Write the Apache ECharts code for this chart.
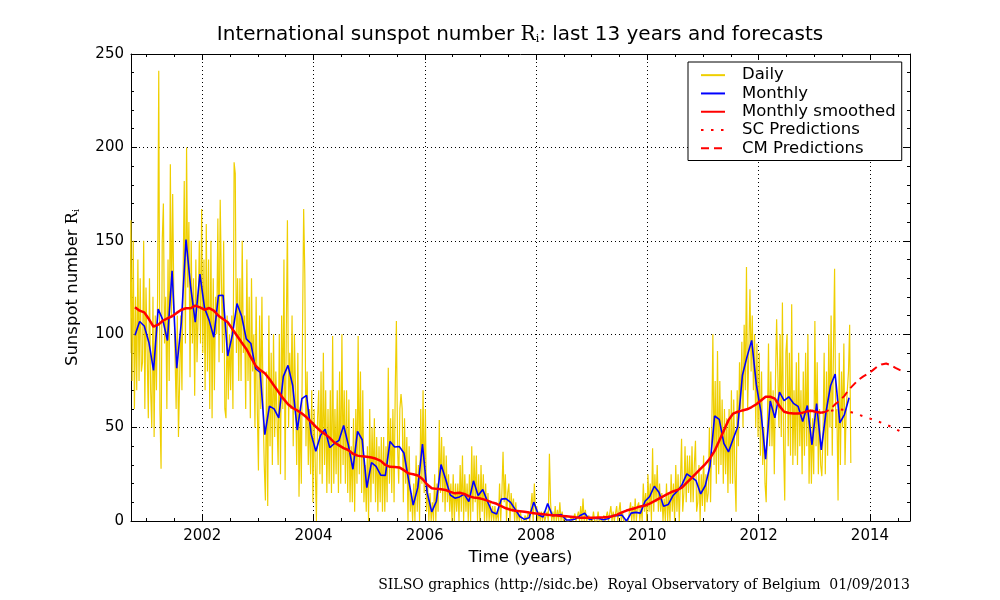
<!DOCTYPE html>
<html>
<head>
<meta charset="utf-8">
<script src="https://cdn.jsdelivr.net/npm/echarts@6/dist/echarts.min.js"></script>
<style>
html, body { margin: 0; padding: 0; background: #fff; }
#chart { width: 1000px; height: 600px; }
</style>
</head>
<body>
<div id="chart"></div>
<script>
// Data. Each list starts at the [year, month] given next to it.

// daily numbers, thinned to 4 samples per month, from Sep 2000
const dailyStart = [2000, 9];
const daily = [
  130, 90, 161, 75, 150, 60, 120, 70, 140, 75, 130, 80, 85, 150, 60, 125,
  // 2001
  125, 55, 130, 70, 50, 120, 45, 110, 70, 120, 241, 60, 28, 150, 170, 95, 120, 60, 140, 75, 191, 110, 175, 120,
  90, 60, 110, 45, 75, 110, 70, 130, 182, 95, 200, 125, 160, 77, 150, 95, 130, 67, 140, 85, 110, 150, 95, 167,
  // 2002
  90, 140, 70, 159, 80, 140, 60, 150, 55, 130, 70, 120, 100, 162, 85, 172, 130, 90, 150, 60, 55, 110, 65, 100,
  70, 110, 60, 192, 186, 90, 130, 75, 130, 75, 150, 90, 110, 60, 140, 75, 120, 55, 130, 80, 100, 50, 120, 60,
  // 2003
  27, 110, 60, 120, 60, 30, 11, 80, 8, 110, 40, 90, 30, 100, 45, 80, 80, 30, 100, 25, 110, 60, 140, 22,
  100, 161, 50, 90, 60, 110, 40, 100, 70, 30, 90, 13, 60, 20, 100, 167, 132, 40, 80, 30, 60, 25, 70, 10,
  // 2004
  60, 30, 0, 55, 70, 25, 80, 20, 90, 30, 70, 15, 60, 20, 70, 15, 99, 20, 60, 25, 70, 15, 80, 20,
  100, 30, 70, 20, 70, 15, 65, 10, 40, 10, 55, 5, 60, 20, 99, 25, 80, 15, 70, 10, 30, 5, 40, 0,
  // 2005
  60, 10, 50, 20, 55, 10, 45, 5, 40, 10, 45, 5, 45, 5, 40, 10, 82, 20, 55, 15, 60, 10, 70, 107,
  40, 20, 60, 68, 60, 10, 55, 20, 45, 0, 40, 5, 15, 0, 20, 0, 35, 5, 30, 0, 60, 20, 70, 15,
  // 2006
  60, 5, 20, 0, 15, 0, 10, 0, 25, 0, 20, 5, 54, 15, 45, 10, 40, 5, 35, 10, 25, 5, 20, 0,
  25, 0, 20, 5, 20, 0, 30, 5, 35, 0, 25, 5, 20, 0, 25, 0, 40, 5, 35, 10, 35, 0, 25, 0,
  // 2007
  30, 5, 25, 0, 20, 0, 15, 0, 10, 0, 8, 0, 8, 0, 5, 0, 20, 0, 15, 37, 10, 25, 0, 15,
  20, 0, 15, 5, 12, 0, 10, 0, 5, 0, 5, 0, 0, 0, 3, 0, 0, 5, 0, 0, 15, 0, 20, 5,
  // 2008
  8, 0, 5, 0, 5, 0, 5, 0, 0, 5, 0, 36, 10, 0, 5, 0, 8, 0, 6, 0, 10, 0, 5, 0,
  0, 2, 0, 0, 0, 0, 2, 0, 0, 4, 0, 0, 5, 0, 8, 0, 12, 0, 6, 0, 0, 3, 0, 0,
  // 2009
  0, 5, 0, 0, 0, 5, 0, 0, 0, 0, 3, 0, 0, 5, 0, 0, 8, 0, 5, 0, 0, 8, 0, 5,
  10, 0, 5, 0, 0, 0, 0, 0, 0, 10, 0, 8, 0, 12, 0, 8, 10, 0, 8, 0, 20, 5, 15, 0,
  // 2010
  25, 5, 20, 0, 39, 5, 25, 10, 30, 5, 20, 5, 15, 0, 12, 0, 20, 0, 15, 0, 25, 5, 20, 0,
  30, 5, 25, 0, 20, 44, 5, 15, 40, 10, 35, 15, 35, 10, 40, 10, 30, 43, 5, 10, 30, 0, 25, 8,
  // 2011
  35, 5, 25, 10, 15, 50, 10, 45, 100, 30, 75, 20, 91, 25, 75, 30, 65, 20, 60, 25, 55, 15, 60, 20,
  70, 20, 65, 25, 5, 70, 40, 85, 60, 96, 50, 105, 70, 136, 60, 90, 124, 80, 110, 70, 100, 50, 95, 45,
  // 2012
  90, 35, 80, 30, 50, 20, 10, 50, 95, 40, 80, 40, 70, 25, 75, 108, 80, 50, 100, 45, 117, 40, 11, 90,
  100, 40, 90, 35, 116, 30, 70, 35, 85, 30, 90, 40, 70, 25, 80, 35, 90, 40, 100, 20, 60, 20, 55, 25,
  // 2013
  107, 40, 85, 25, 60, 30, 24, 45, 90, 25, 80, 35, 100, 50, 110, 35, 90, 135, 50, 60, 11, 90, 30, 80,
  50, 95, 30, 60, 70, 80, 105, 31
];

// monthly means, from Oct 2000
const monthlyStart = [2000, 10];
const monthly = [
  99.4, 106.8, 104.4,
  95.6, 80.6, 113.5, 107.7, 96.6, 134.0, 81.8, 106.4, 150.7, 125.5, 106.5, 132.2,
  114.1, 107.4, 98.4, 120.7, 120.8, 88.3, 99.6, 116.4, 109.6, 97.5, 95.0, 81.6,
  79.5, 46.2, 61.5, 60.0, 55.2, 77.4, 83.3, 72.7, 48.7, 65.5, 67.3, 46.5,
  37.3, 45.8, 49.1, 39.3, 41.5, 43.2, 51.1, 40.9, 27.7, 48.0, 43.5, 17.9,
  31.3, 29.2, 24.5, 24.4, 42.6, 39.6, 39.9, 36.4, 22.1, 8.5, 18.0, 41.2,
  15.3, 4.9, 10.6, 30.2, 22.3, 13.9, 12.2, 12.9, 14.4, 10.4, 21.5, 13.6,
  16.9, 10.6, 4.8, 3.7, 11.7, 12.0, 10.0, 6.2, 2.4, 0.9, 1.7, 10.1,
  3.3, 2.1, 9.3, 2.9, 3.2, 3.4, 0.5, 0.5, 1.1, 2.9, 4.1, 0.8,
  1.5, 1.4, 0.7, 1.2, 2.9, 2.9, 3.2, 0.0, 4.2, 4.6, 4.2, 10.6,
  13.1, 18.6, 15.4, 7.9, 8.8, 13.5, 16.1, 19.6, 25.2, 23.5, 21.6, 14.5,
  19.0, 29.4, 56.2, 54.4, 41.6, 37.0, 43.9, 50.6, 78.0, 88.0, 96.7, 73.0,
  58.3, 33.1, 64.2, 55.2, 69.0, 64.5, 66.5, 63.0, 61.4, 53.3, 61.8, 40.8,
  62.9, 38.1, 57.9, 72.4, 78.7, 52.5, 57.0, 66.0
];

// 13-month smoothed, from Oct 2000
const smoothedStart = [2000, 10];
const smoothed = [
  114.4, 112.6, 111.7,
  108.1, 104.0, 105.1, 107.2, 108.5, 109.6, 111.4, 113.1, 113.9, 113.9, 115.3, 114.4,
  113.1, 114.0, 112.6, 109.9, 108.1, 106.4, 102.8, 99.2, 95.6, 92.1, 87.6, 83.2,
  80.8, 79.1, 76.0, 72.4, 68.9, 65.5, 62.5, 60.5, 59.2, 57.5, 55.5, 53.0,
  50.5, 48.2, 46.5, 44.5, 42.0, 40.5, 39.0, 38.0, 36.0, 35.0, 34.6, 34.4,
  34.0, 33.3, 32.2, 30.0, 29.0, 28.9, 28.7, 27.2, 25.5, 25.0, 24.4, 22.5,
  19.5, 17.5, 17.2, 17.0, 16.6, 15.6, 14.8, 15.1, 14.5, 13.3, 12.6, 12.3,
  11.7, 10.9, 10.0, 9.2, 8.0, 6.8, 6.0, 5.5, 5.2, 4.9, 4.5, 4.2,
  3.9, 3.6, 3.3, 3.1, 2.9, 2.7, 2.5, 2.3, 2.0, 1.8, 1.7, 1.7,
  1.8, 1.9, 2.0, 2.2, 2.6, 3.4, 4.6, 5.6, 6.3, 7.0, 7.8, 8.3,
  9.3, 10.6, 12.0, 13.3, 14.6, 15.8, 16.6, 18.0, 20.5, 23.0, 25.5, 28.0,
  30.5, 33.5, 37.5, 43.0, 48.5, 54.0, 57.5, 58.5, 59.2, 59.8, 61.0, 62.5,
  64.5, 66.5, 66.5, 65.5, 61.5, 58.5, 57.8, 57.6, 57.6, 58.0, 58.7, 59.0,
  58.3, 58.0
];

// forecasts, from Feb 2013 (last smoothed value) to Aug 2014
const predStart = [2013, 2];
const scPred = [58.0, 58.5, 59.0, 59.5, 59.8, 59.5, 58.6, 57.8, 57.0, 56.1, 55.3,
  54.4, 53.5, 52.6, 51.6, 50.5, 49.3, 48.0, 47.3];
const cmPred = [58.0, 58.5, 60.0, 62.5, 64.5, 67.0, 70.5, 73.0, 75.5, 77.3, 78.7,
  80.5, 82.5, 83.8, 84.3, 83.4, 82.0, 80.8, 79.8];

const xMin = 2000.72;
const xMax = 2014.72;

// list of values -> [decimal year, value], n samples spread over each month
function toPoints(start, values, n) {
  return values.map(function (v, i) {
    const mi = start[1] - 1 + Math.floor(i / n);
    const k = i % n;
    const year = start[0] + Math.floor(mi / 12);
    const m = mi % 12;
    return [year + (m + (k + 0.5) / n) / 12, v];
  });
}

const FONT = 'DejaVu Sans';
const SERIF = 'DejaVu Serif';

const subRich = {
  r: { fontFamily: SERIF, fontSize: 16, color: '#000' },
  s: { fontFamily: SERIF, fontSize: 10, color: '#000', verticalAlign: 'bottom', lineHeight: 12 }
};

function decoAxis(extra) {
  return Object.assign({
    type: 'value',
    axisLine: { show: true, onZero: false, lineStyle: { color: '#000', width: 1 } },
    axisTick: { show: true, inside: true, length: 6, lineStyle: { color: '#000', width: 1 } },
    minorTick: { show: true, length: 3, lineStyle: { color: '#000', width: 1 } },
    axisLabel: { show: false },
    splitLine: { show: false }
  }, extra);
}

const chart = echarts.init(document.getElementById('chart'), null, { renderer: 'canvas' });

const option = {
  animation: false,
  backgroundColor: '#fff',
  title: {
    text: 'International sunspot number {r|R}{s|i}: last 13 years and forecasts',
    left: 515,
    top: 20,
    textAlign: 'center',
    textStyle: {
      fontFamily: FONT, fontSize: 20, fontWeight: 'normal', color: '#000',
      rich: {
        r: { fontFamily: SERIF, fontSize: 20, color: '#000' },
        s: { fontFamily: SERIF, fontSize: 11, color: '#000', verticalAlign: 'bottom', lineHeight: 13 }
      }
    }
  },
  legend: {
    orient: 'vertical',
    left: 688,
    top: 62,
    itemWidth: 24,
    itemHeight: 14,
    itemGap: 0,
    padding: [4, 6, 3, 12],
    borderColor: '#000',
    borderWidth: 1,
    borderRadius: 0,
    backgroundColor: '#fff',
    itemStyle: { color: 'transparent', borderWidth: 0, opacity: 0 },
    textStyle: { fontFamily: FONT, fontSize: 16.5, color: '#000', lineHeight: 18.3, padding: [0, 0, 0, 12] },
    data: ['Daily', 'Monthly', 'Monthly smoothed', 'SC Predictions', 'CM Predictions']
  },
  grid: { left: 131, right: 90, top: 54, bottom: 79, outerBoundsMode: 'none' },
  xAxis: [
    decoAxis({
      min: xMin, max: xMax, splitNumber: 7, position: 'bottom',
      minorTick: { show: true, splitNumber: 4, length: 3, lineStyle: { color: '#000', width: 1 } },
      splitLine: { show: true, lineStyle: { color: '#000', width: 1, type: [1, 3] } },
      axisLabel: {
        show: true, fontFamily: FONT, fontSize: 15, color: '#000', margin: 8,
        showMinLabel: false, showMaxLabel: false,
        formatter: function (v) { return Math.abs(v - Math.round(v)) < 1e-6 ? String(Math.round(v)) : ''; }
      },
      name: 'Time (years)',
      nameLocation: 'middle',
      nameGap: 22,
      nameTextStyle: { fontFamily: FONT, fontSize: 16.5, color: '#000' }
    }),
    decoAxis({
      min: xMin, max: xMax, splitNumber: 7, position: 'top',
      minorTick: { show: true, splitNumber: 4, length: 3, lineStyle: { color: '#000', width: 1 } }
    })
  ],
  yAxis: [
    decoAxis({
      min: 0, max: 250, interval: 50, position: 'left',
      minorTick: { show: true, splitNumber: 5, length: 3, lineStyle: { color: '#000', width: 1 } },
      splitLine: { show: true, lineStyle: { color: '#000', width: 1, type: [1, 3] } },
      axisLabel: { show: true, fontFamily: FONT, fontSize: 15, color: '#000', margin: 7 },
      name: 'Sunspot number {r|R}{s|i}',
      nameLocation: 'middle',
      nameGap: 50,
      nameTextStyle: { fontFamily: FONT, fontSize: 16.5, color: '#000', rich: subRich }
    }),
    decoAxis({
      min: 0, max: 250, interval: 50, position: 'right',
      minorTick: { show: true, splitNumber: 5, length: 3, lineStyle: { color: '#000', width: 1 } }
    })
  ],
  series: [
    {
      name: 'Daily', type: 'line', symbol: 'none', z: 1,
      data: toPoints(dailyStart, daily, 4),
      lineStyle: { color: '#efcf00', width: 1.2 },
      itemStyle: { color: '#efcf00' }
    },
    {
      name: 'Monthly', type: 'line', symbol: 'none', z: 2,
      data: toPoints(monthlyStart, monthly, 1),
      lineStyle: { color: '#0000ff', width: 1.6 },
      itemStyle: { color: '#0000ff' }
    },
    {
      name: 'Monthly smoothed', type: 'line', symbol: 'none', z: 3,
      data: toPoints(smoothedStart, smoothed, 1),
      lineStyle: { color: '#ff0000', width: 2.5 },
      itemStyle: { color: '#ff0000' }
    },
    {
      name: 'SC Predictions', type: 'line', symbol: 'none', z: 3,
      data: toPoints(predStart, scPred, 1),
      lineStyle: { color: '#ff0000', width: 2, type: [2.5, 7.5] },
      itemStyle: { color: '#ff0000' }
    },
    {
      name: 'CM Predictions', type: 'line', symbol: 'none', z: 3,
      data: toPoints(predStart, cmPred, 1),
      lineStyle: { color: '#ff0000', width: 2, type: [8, 5] },
      itemStyle: { color: '#ff0000' }
    }
  ],
  graphic: [
    {
      type: 'text',
      right: 90,
      top: 578,
      style: {
        text: 'SILSO graphics (http://sidc.be)  Royal Observatory of Belgium  01/09/2013',
        font: '14px "DejaVu Serif"',
        fill: '#000'
      }
    }
  ]
};

chart.setOption(option);
</script>
</body>
</html>
